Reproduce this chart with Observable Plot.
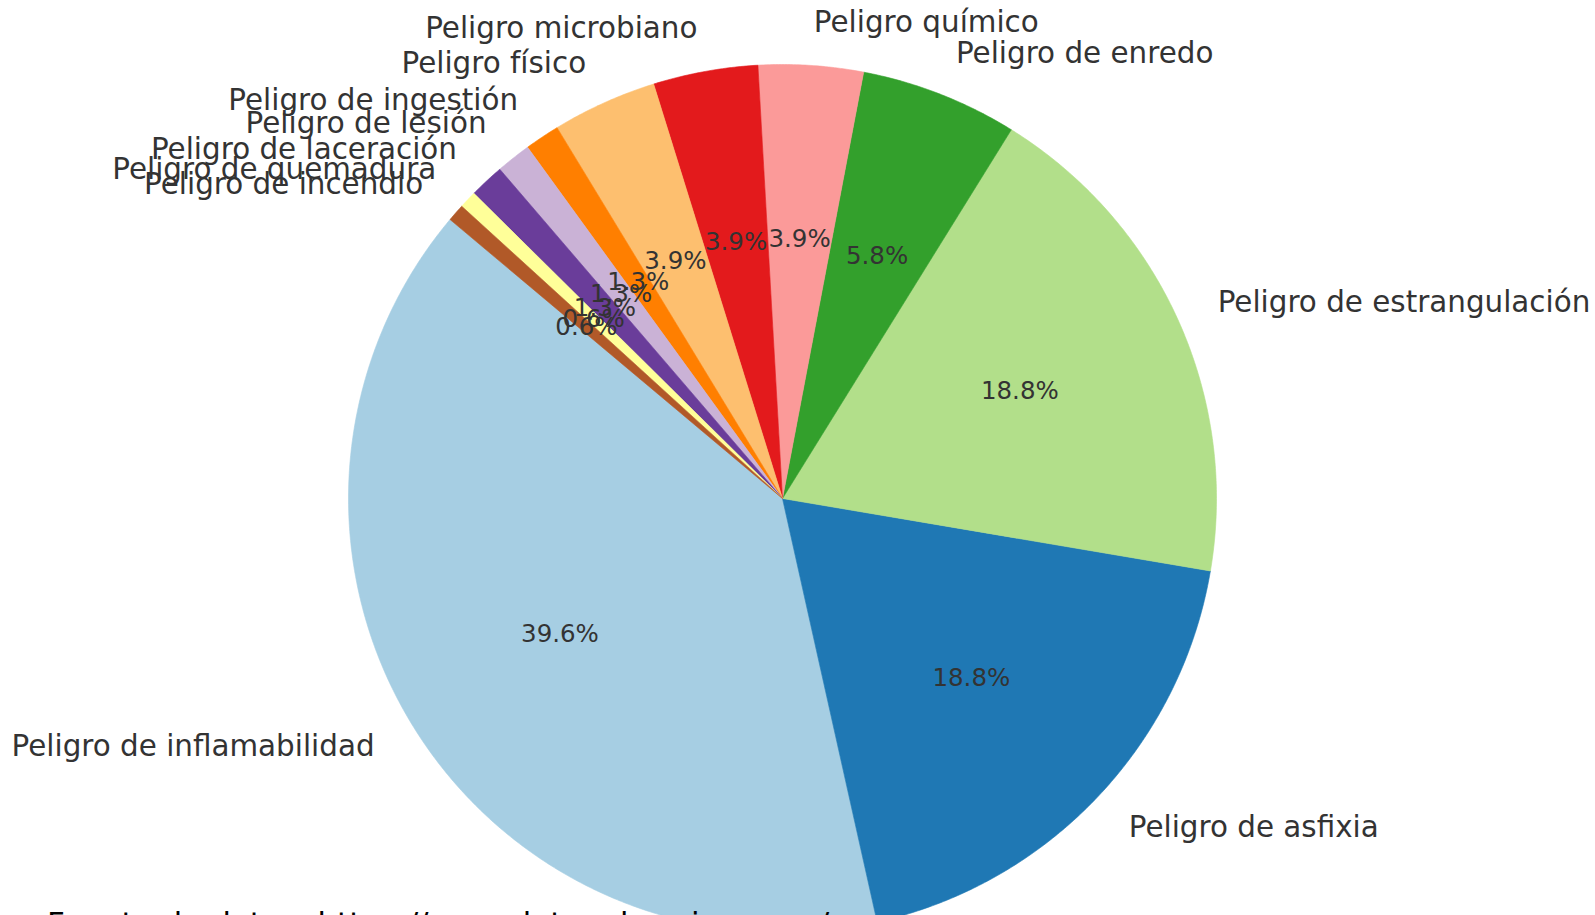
<!DOCTYPE html>
<html>
<head>
<meta charset="utf-8">
<script src="https://cdn.jsdelivr.net/npm/d3@7"></script>
<script src="https://cdn.jsdelivr.net/npm/@observablehq/plot@0.6"></script>
<style>
  html, body { margin: 0; padding: 0; background: #fff; overflow: hidden; width: 1595px; height: 915px; }
  #chart { position: absolute; left: 0; top: 0; }
  #caption { position: absolute; left: 47px; top: 908px; font-family: "DejaVu Sans", sans-serif; font-size: 31px; line-height: 1; color: #000; white-space: nowrap; }
</style>
</head>
<body>
<div id="chart"></div>
<div id="caption">Fuente de datos: https://www.datos-de-origen.org/</div>
<script>
// ---- data ----
const categories = [
  "Peligro de inflamabilidad",
  "Peligro de asfixia",
  "Peligro de estrangulación",
  "Peligro de enredo",
  "Peligro químico",
  "Peligro microbiano",
  "Peligro físico",
  "Peligro de ingestión",
  "Peligro de lesión",
  "Peligro de laceración",
  "Peligro de quemadura",
  "Peligro de incendio"
];
const counts = [61, 29, 29, 9, 6, 6, 6, 2, 2, 2, 1, 1];
const colors = ["#a6cee3", "#1f78b4", "#b2df8a", "#33a02c", "#fb9a99", "#e31a1c",
                "#fdbf6f", "#ff7f00", "#cab2d6", "#6a3d9a", "#ffff99", "#b15928"];
const startAngle = 140; // degrees, counterclockwise

// ---- geometry in data units (unit radius) ----
const total = d3.sum(counts);
const rad = Math.PI / 180;
const wedges = [];
const labels = [];
let cum = 0;
categories.forEach((name, i) => {
  const a0 = startAngle + 360 * cum / total;
  const a1 = startAngle + 360 * (cum + counts[i]) / total;
  cum += counts[i];
  const n = Math.max(2, Math.ceil((a1 - a0) / 0.4));
  wedges.push({name, x: 0, y: 0});
  for (let k = 0; k <= n; k++) {
    const a = (a0 + (a1 - a0) * k / n) * rad;
    wedges.push({name, x: Math.cos(a), y: Math.sin(a)});
  }
  wedges.push({name, x: 0, y: 0});
  const m = (a0 + a1) / 2 * rad;
  labels.push({
    name,
    lx: 1.1 * Math.cos(m), ly: 1.1 * Math.sin(m),
    px: 0.6 * Math.cos(m), py: 0.6 * Math.sin(m),
    pct: (100 * counts[i] / total).toFixed(1) + "%"
  });
});

const W = 1595, H = 915, cx = 782, cy = 498, R = 434;
const textColor = "#333333";

const plot = Plot.plot({
  width: W, height: H,
  margin: 0,
  style: {fontFamily: "DejaVu Sans, sans-serif", background: "#fff", overflow: "hidden"},
  x: {domain: [-cx / R, (W - cx) / R], axis: null},
  y: {domain: [-(H - cy) / R, cy / R], axis: null},
  color: {type: "ordinal", domain: categories, range: colors},
  marks: [
    Plot.line(wedges, {x: "x", y: "y", z: "name", fill: "name", stroke: "name", strokeWidth: 0.6, curve: "linear"}),
    Plot.text(labels.filter(d => d.lx < 0), {x: "lx", y: "ly", text: "name", textAnchor: "end", lineAnchor: "middle", fontSize: 29.4, fill: textColor}),
    Plot.text(labels.filter(d => d.lx >= 0), {x: "lx", y: "ly", text: "name", textAnchor: "start", lineAnchor: "middle", fontSize: 29.4, fill: textColor}),
    Plot.text(labels, {x: "px", y: "py", text: "pct", textAnchor: "middle", lineAnchor: "middle", fontSize: 24.5, fill: textColor})
  ]
});
document.getElementById("chart").appendChild(plot);
</script>
</body>
</html>
